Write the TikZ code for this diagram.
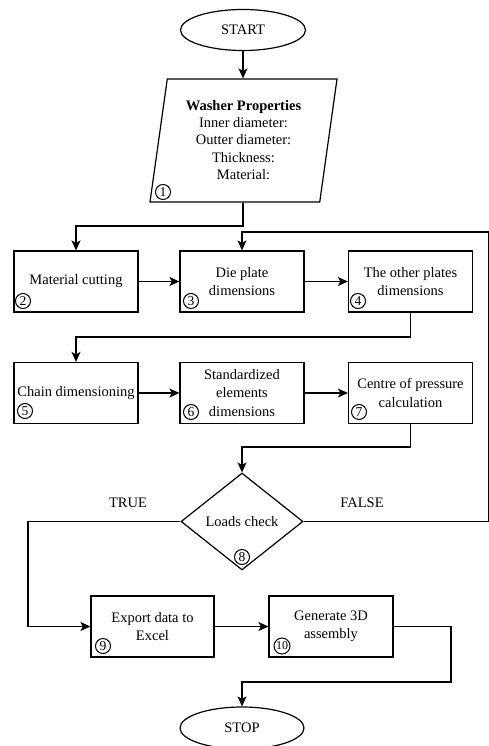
\documentclass[tikz,border=0pt]{standalone}
\usepackage{fontspec}
\setmainfont{Liberation Serif}
\usetikzlibrary{shapes.geometric,arrows.meta}
\begin{document}
\begin{tikzpicture}[x=1pt,y=-1pt, line width=1.2pt,
  txt/.style={font=\fontsize{14.5}{18.5}\selectfont},
  box/.style={draw, rectangle, minimum width=124pt, minimum height=61pt, align=center, inner sep=1pt, txt},
  term/.style={draw, ellipse, minimum width=125pt, minimum height=41pt, inner sep=0pt, txt},
  num/.style={draw, circle, inner sep=0pt, minimum size=15pt, line width=1pt, font=\fontsize{13.5}{13.5}\selectfont},
  arr/.style={-{Stealth[length=10pt,width=9pt,inset=2.5pt]}},
  ]
\useasboundingbox (0,0) rectangle (489,746);

% nodes
\node[term] (start) at (243,30) {START};
\node[draw, trapezium, trapezium left angle=78, trapezium right angle=102,
      trapezium stretches body, minimum width=187pt, minimum height=123pt,
      align=center, inner sep=1pt, font=\fontsize{14.5}{17}\selectfont] (p1) at (243.5,140.5)
  {\textbf{Washer Properties}\\Inner diameter:\\Outter diameter:\\[1pt]Thickness:\\Material:};

\node[box] (b2) at (76,281.5) {Material cutting};
\node[box] (b3) at (242,281.5) {Die plate\\dimensions};
\node[box] (b4) at (410.5,281.5) {The other plates\\dimensions};
\node[box] (b5) at (76,393) {Chain dimensioning};
\node[box] (b6) at (242,393) {Standardized\\elements\\dimensions};
\node[box] (b7) at (410.5,393) {Centre of pressure\\calculation};
\node[draw, diamond, minimum width=122pt, minimum height=97pt, inner sep=0pt, txt] (dia) at (242,521.5) {Loads check};
\node[box, minimum width=123pt] (b9) at (152.5,626.5) {Export data to\\Excel};
\node[box] (b10) at (331,626.5) {Generate 3D\\assembly};
\node[term, minimum width=124pt, minimum height=42pt] (stop) at (242,728) {STOP};

\node[txt] (tl) at (128,503) {TRUE};
\node[txt] (fl) at (362,503) {FALSE};

% circled numbers
\node[num] (n1) at (163,192) {1};
\node[num] (n2) at (23,301) {2};
\node[num] (n3) at (191,301) {3};
\node[num] (n4) at (358,301) {4};
\node[num] (n5) at (25,411) {5};
\node[num] (n6) at (191,412) {6};
\node[num] (n7) at (359,412) {7};
\node[num] (n8) at (242,557) {8};
\node[num] (n9) at (103,646) {9};
\node[num, minimum size=16pt, font=\fontsize{12}{12}\selectfont] (n10) at (282,646) {10};

% helper coordinates
\coordinate (j1) at (0,226);
\coordinate (j2) at (0,337);
\coordinate (j3) at (0,447);
\coordinate (j4) at (0,232);
\coordinate (j5) at (0,682);
\coordinate (xl) at (28,0);
\coordinate (xr) at (488.3,0);
\coordinate (xr2) at (451,0);

% connectors
\draw[arr] (start.south) -- (start.south |- p1.north);
\draw[arr] (start.south |- p1.south) -- (start.south |- j1) -| (b2.north);
\draw[arr] (b2) -- (b3);
\draw[arr] (b3) -- (b4);
\draw[arr] (b4.south) -- (b4.south |- j2) -| (b5.north);
\draw[arr] (b5) -- (b6);
\draw[arr] (b6) -- (b7);
\draw[arr] (b7.south) -- (b7.south |- j3) -| (dia.north);
\draw[arr] (dia.west) -- (xl |- dia.west) |- (b9.west);
\draw[arr] (dia.east) -- (xr |- dia.east) -- (xr |- j4) -| (b3.north);
\draw[arr] (b9) -- (b10);
\draw[arr] (b10.east) -- (xr2 |- b10.east) -- (xr2 |- j5) -- (stop.north |- j5) -- (stop.north);
\end{tikzpicture}
\end{document}
